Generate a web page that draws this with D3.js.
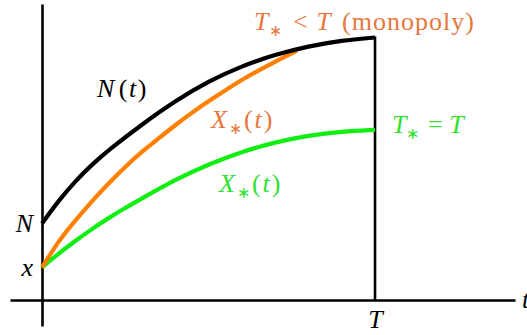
<!DOCTYPE html>
<html>
<head>
<meta charset="utf-8">
<script src="https://cdn.jsdelivr.net/npm/d3@7"></script>
<style>
  html, body { margin: 0; padding: 0; background: #fff; }
  svg { display: block; }
</style>
</head>
<body>
<svg id="chart" width="527" height="335"></svg>
<script>
// ---- data (t in units of T, values in units of N(T)) ----
const T = 1;
const N0 = 0.291;   // N = N(0)
const X0 = 0.124;   // x = X(0)

const blackT  = [0, 0.05, 0.1, 0.15, 0.2, 0.3, 0.4, 0.5, 0.6, 0.7, 0.8, 0.9, 1.0];
const blackN  = [0.291, 0.378, 0.452, 0.515, 0.570, 0.668, 0.757, 0.832, 0.890, 0.933, 0.965, 0.987, 0.998];

const orangeT = [0, 0.05, 0.1, 0.15, 0.2, 0.25, 0.3, 0.35, 0.4, 0.45, 0.5, 0.55, 0.6, 0.65, 0.7, 0.765];
const orangeX = [0.124, 0.225, 0.302, 0.376, 0.444, 0.507, 0.564, 0.614, 0.665, 0.712, 0.756, 0.797, 0.837, 0.873, 0.906, 0.948];

const greenT  = [0, 0.05, 0.1, 0.15, 0.2, 0.25, 0.3, 0.4, 0.5, 0.6, 0.7, 0.8, 0.9, 1.0];
const greenX  = [0.124, 0.177, 0.225, 0.270, 0.312, 0.350, 0.386, 0.458, 0.516, 0.564, 0.600, 0.626, 0.641, 0.647];

const xTickValues = [T];
const xTickLabels = ["T"];
const yTickValues = [N0, X0];
const yTickLabels = ["N", "x"];

// ---- make sure the serif font is loaded before drawing ----
const FONT = '"Liberation Serif"';
(function preload() {
  const c = document.createElement("canvas").getContext("2d");
  ["", "italic "].forEach(st => { c.font = st + "26px " + FONT + ", monospace"; c.measureText("N(t) X T (monopoly) ∗<=");
    c.font = st + "16px " + FONT + ", monospace"; c.measureText("∗"); });
})();

// ---- layout ----
const svg = d3.select("#chart");
const ORANGE = "#ff8000", ORANGE_TXT = "#e8773c";
const GREEN = "#11ee11", GREEN_TXT = "#2fe02f";

const x = d3.scaleLinear().domain([-0.0961, 1.4204]).range([10, 515]);
const y = d3.scaleLinear().domain([-0.0989, 1.1255]).range([326, 4]);

// x axis
const xAxis = d3.axisBottom(x).tickValues(xTickValues)
  .tickFormat((d, i) => xTickLabels[i]).tickSize(0).tickPadding(10);
const gx = svg.append("g").attr("transform", `translate(0,${y(0)})`).call(xAxis)
  .attr("font-family", FONT);
gx.select(".domain").attr("stroke", "#000").attr("stroke-width", 2.6);
gx.selectAll("text").attr("font-size", 26).attr("font-style", "italic").attr("fill", "#000");

// y axis
const yAxis = d3.axisLeft(y).tickValues(yTickValues)
  .tickFormat((d, i) => yTickLabels[i]).tickSize(0).tickPadding(9);
const gy = svg.append("g").attr("transform", `translate(${x(0)},0)`).call(yAxis)
  .attr("font-family", FONT);
gy.select(".domain").attr("stroke", "#000").attr("stroke-width", 2.6);
gy.selectAll("text").attr("font-size", 26).attr("font-style", "italic").attr("fill", "#000");

// axis name t (cut at the edge, as in the original)
svg.append("text").attr("x", 522).attr("y", y(0) + 8).attr("font-family", FONT)
  .attr("font-size", 26).attr("font-style", "italic").text("t");

// vertical line at T
svg.append("line")
  .attr("x1", x(T)).attr("x2", x(T))
  .attr("y1", y(0)).attr("y2", y(blackN[blackN.length - 1]) - 1)
  .attr("stroke", "#000").attr("stroke-width", 2.6);

const line = d3.line().x(d => x(d[0])).y(d => y(d[1])).curve(d3.curveBasis);

svg.append("path").datum(d3.zip(greenT, greenX))
  .attr("d", line).attr("fill", "none").attr("stroke", GREEN).attr("stroke-width", 4.2);
svg.append("path").datum(d3.zip(orangeT, orangeX))
  .attr("d", line).attr("fill", "none").attr("stroke", ORANGE).attr("stroke-width", 4.2);
svg.append("path").datum(d3.zip(blackT, blackN))
  .attr("d", line).attr("fill", "none").attr("stroke", "#000").attr("stroke-width", 4.2);

// ---- labels ----
function mathLabel(xp, yp, color, spacing, parts) {
  const t = svg.append("text").attr("x", xp).attr("y", yp)
    .attr("font-size", 26).attr("fill", color).attr("font-family", FONT)
    .attr("letter-spacing", spacing);
  parts.forEach(p => {
    const s = t.append("tspan").text(p.text);
    if (p.italic) s.attr("font-style", "italic");
    if (p.sub) s.attr("font-size", 16).attr("dy", 6);
    if (p.up) s.attr("dy", -6);
    if (p.dx) s.attr("dx", p.dx);
  });
  return t;
}

mathLabel(97, 97, "#000", 1.5, [
  {text: "N", italic: true}, {text: "(", dx: 3}, {text: "t", italic: true}, {text: ")"}
]);

mathLabel(211, 128, ORANGE_TXT, 2, [
  {text: "X", italic: true}, {text: "∗", sub: true}, {text: "(", up: true}, {text: "t", italic: true}, {text: ")"}
]);

mathLabel(219, 192, GREEN_TXT, 2, [
  {text: "X", italic: true}, {text: "∗", sub: true}, {text: "(", up: true}, {text: "t", italic: true}, {text: ")"}
]);

mathLabel(254, 30, ORANGE_TXT, 1, [
  {text: "T", italic: true}, {text: "∗", sub: true}, {text: " < ", up: true, dx: 2}, {text: "T", italic: true}, {text: " (monopoly)", dx: 3}
]);

mathLabel(392, 133, GREEN_TXT, 0, [
  {text: "T", italic: true}, {text: "∗", sub: true}, {text: " = ", up: true, dx: 2}, {text: "T", italic: true}
]);
</script>
</body>
</html>
